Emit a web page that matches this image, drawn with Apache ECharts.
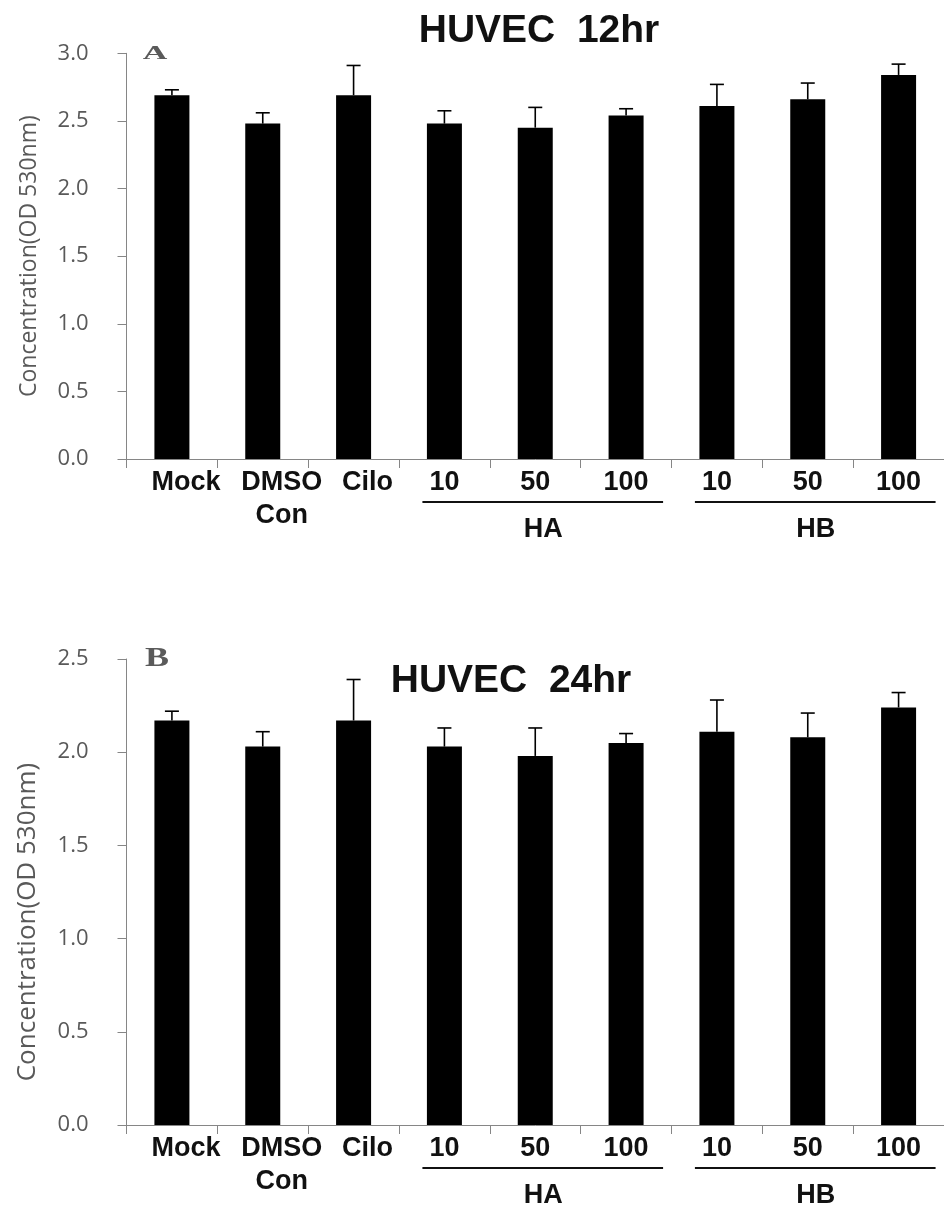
<!DOCTYPE html>
<html>
<head>
<meta charset="utf-8">
<script src="https://cdn.jsdelivr.net/npm/echarts@6/dist/echarts.min.js"></script>
<style>html,body{margin:0;padding:0;background:#fff;}#c{width:944px;height:1207px;}</style>
</head>
<body>
<div id="c"></div>
<script>
// ---- data ----
const categories = ['Mock', 'DMSO\nCon', 'Cilo', '10', '50', '100', '10', '50', '100'];
const groupNames = ['HA', 'HB'];
const values12 = [2.69, 2.48, 2.69, 2.48, 2.45, 2.54, 2.61, 2.66, 2.84];
const errors12 = [0.04, 0.08, 0.22, 0.095, 0.15, 0.05, 0.16, 0.12, 0.08];
const values24 = [2.17, 2.03, 2.17, 2.03, 1.98, 2.05, 2.11, 2.08, 2.24];
const errors24 = [0.05, 0.08, 0.22, 0.10, 0.15, 0.05, 0.17, 0.13, 0.08];
const yTicks12 = [0, 3.0, 0.5];
const yTicks24 = [0, 2.5, 0.5];
const titles = ['HUVEC  12hr', 'HUVEC  24hr'];
const panelLetters = ['A', 'B'];
const yName = 'Concentration(OD 530nm)';

const chart = echarts.init(document.getElementById('c'), null, {renderer: 'canvas'});
const labelShift = [14, 19, 14, 0, 0, 0, 0, 0, 0];
const gridTop = [53.3, 659];
const gridBottom = [748, 82];
const nameSize = [23, 26];
const namePad = [[0, 0, 0, 0], [0, 60, 0, 0]];

function xAxisFor(i) {
  return {
    type: 'category', gridIndex: i,
    data: categories.map((c, k) => ({value: c, textStyle: {padding: [0, 0, 0, labelShift[k] * 2]}})),
    axisLine: {lineStyle: {color: '#868686', width: 1}},
    axisTick: {show: true, length: 9, lineStyle: {color: '#868686'}},
    axisLabel: {interval: 0, margin: 7, fontSize: 27, fontWeight: 'bold', color: '#111',
      fontFamily: 'Liberation Sans, Arial, sans-serif', lineHeight: 33},
    splitLine: {show: false}
  };
}
function yAxisFor(i, t) {
  return {
    type: 'value', gridIndex: i, min: t[0], max: t[1], interval: t[2],
    name: yName, nameLocation: 'middle', nameGap: 86,
    nameTextStyle: {fontSize: nameSize[i], color: '#595959', fontFamily: 'Open Sans, sans-serif', padding: namePad[i]},
    axisLine: {show: true, lineStyle: {color: '#868686', width: 1}},
    axisTick: {show: true, length: 9, lineStyle: {color: '#868686'}},
    axisLabel: {margin: 38, fontSize: 22, color: '#595959', fontFamily: 'Open Sans, sans-serif',
      formatter: v => v.toFixed(1)},
    splitLine: {show: false}
  };
}
function errSeries(i, vals, errs) {
  return {
    type: 'custom', xAxisIndex: i, yAxisIndex: i, z: 5,
    data: vals.map((v, k) => [k, v, errs[k]]),
    renderItem: function (params, api) {
      const base = api.coord([api.value(0), api.value(1)]);
      const top = api.coord([api.value(0), api.value(1) + api.value(2)]);
      const hw = 7;
      const st = {stroke: '#000', lineWidth: 1.6};
      return {type: 'group', children: [
        {type: 'line', shape: {x1: base[0], y1: base[1], x2: top[0], y2: top[1]}, style: st},
        {type: 'line', shape: {x1: top[0] - hw, y1: top[1], x2: top[0] + hw, y2: top[1]}, style: st}
      ]};
    }
  };
}

const option = {
  animation: false,
  backgroundColor: '#fff',
  grid: [
    {left: 126.5, right: -1.5, top: gridTop[0], bottom: gridBottom[0]},
    {left: 126.5, right: -1.5, top: gridTop[1], bottom: gridBottom[1]}
  ],
  xAxis: [xAxisFor(0), xAxisFor(1)],
  yAxis: [yAxisFor(0, yTicks12), yAxisFor(1, yTicks24)],
  series: [
    {type: 'bar', xAxisIndex: 0, yAxisIndex: 0, data: values12, barWidth: 35, itemStyle: {color: '#000'}},
    errSeries(0, values12, errors12),
    {type: 'bar', xAxisIndex: 1, yAxisIndex: 1, data: values24, barWidth: 35, itemStyle: {color: '#000'}},
    errSeries(1, values24, errors24)
  ]
};
chart.setOption(option);

// annotations positioned from the axes' own scales
const graphics = [];
const titlePos = [[539, 31], [511, 681]];
const letterPos = [[155, 54], [157, 659]];
const letterStyle = [{size: 34, sy: 0.55}, {size: 36, sy: 0.75}];
[0, 1].forEach(i => {
  const axisY = chart.convertToPixel({yAxisIndex: i}, 0);
  const px = k => chart.convertToPixel({xAxisIndex: i}, k);
  graphics.push({type: 'text', x: titlePos[i][0], y: titlePos[i][1],
    style: {text: titles[i], font: 'bold 39px Liberation Sans, Arial, sans-serif', fill: '#111',
      textAlign: 'center', textVerticalAlign: 'middle'}});
  graphics.push({type: 'text', x: letterPos[i][0], y: letterPos[i][1], scaleY: letterStyle[i].sy,
    style: {text: panelLetters[i], font: 'bold ' + letterStyle[i].size + 'px Liberation Serif, serif', fill: '#5a5a5a',
      textAlign: 'center', textVerticalAlign: 'middle'}});
  [[3, 5], [6, 8]].forEach((g, gi) => {
    const x1 = px(g[0]) - 22, x2 = px(g[1]) + 37;
    graphics.push({type: 'line', shape: {x1: x1, y1: axisY + 43, x2: x2, y2: axisY + 43},
      style: {stroke: '#111', lineWidth: 2}});
    graphics.push({type: 'text', x: (px(g[0]) + px(g[1])) / 2 + 8, y: axisY + 71,
      style: {text: groupNames[gi], font: 'bold 27px Liberation Sans, Arial, sans-serif', fill: '#111',
        textAlign: 'center', textVerticalAlign: 'middle'}});
  });
});
chart.setOption({graphic: graphics});
</script>
</body>
</html>
